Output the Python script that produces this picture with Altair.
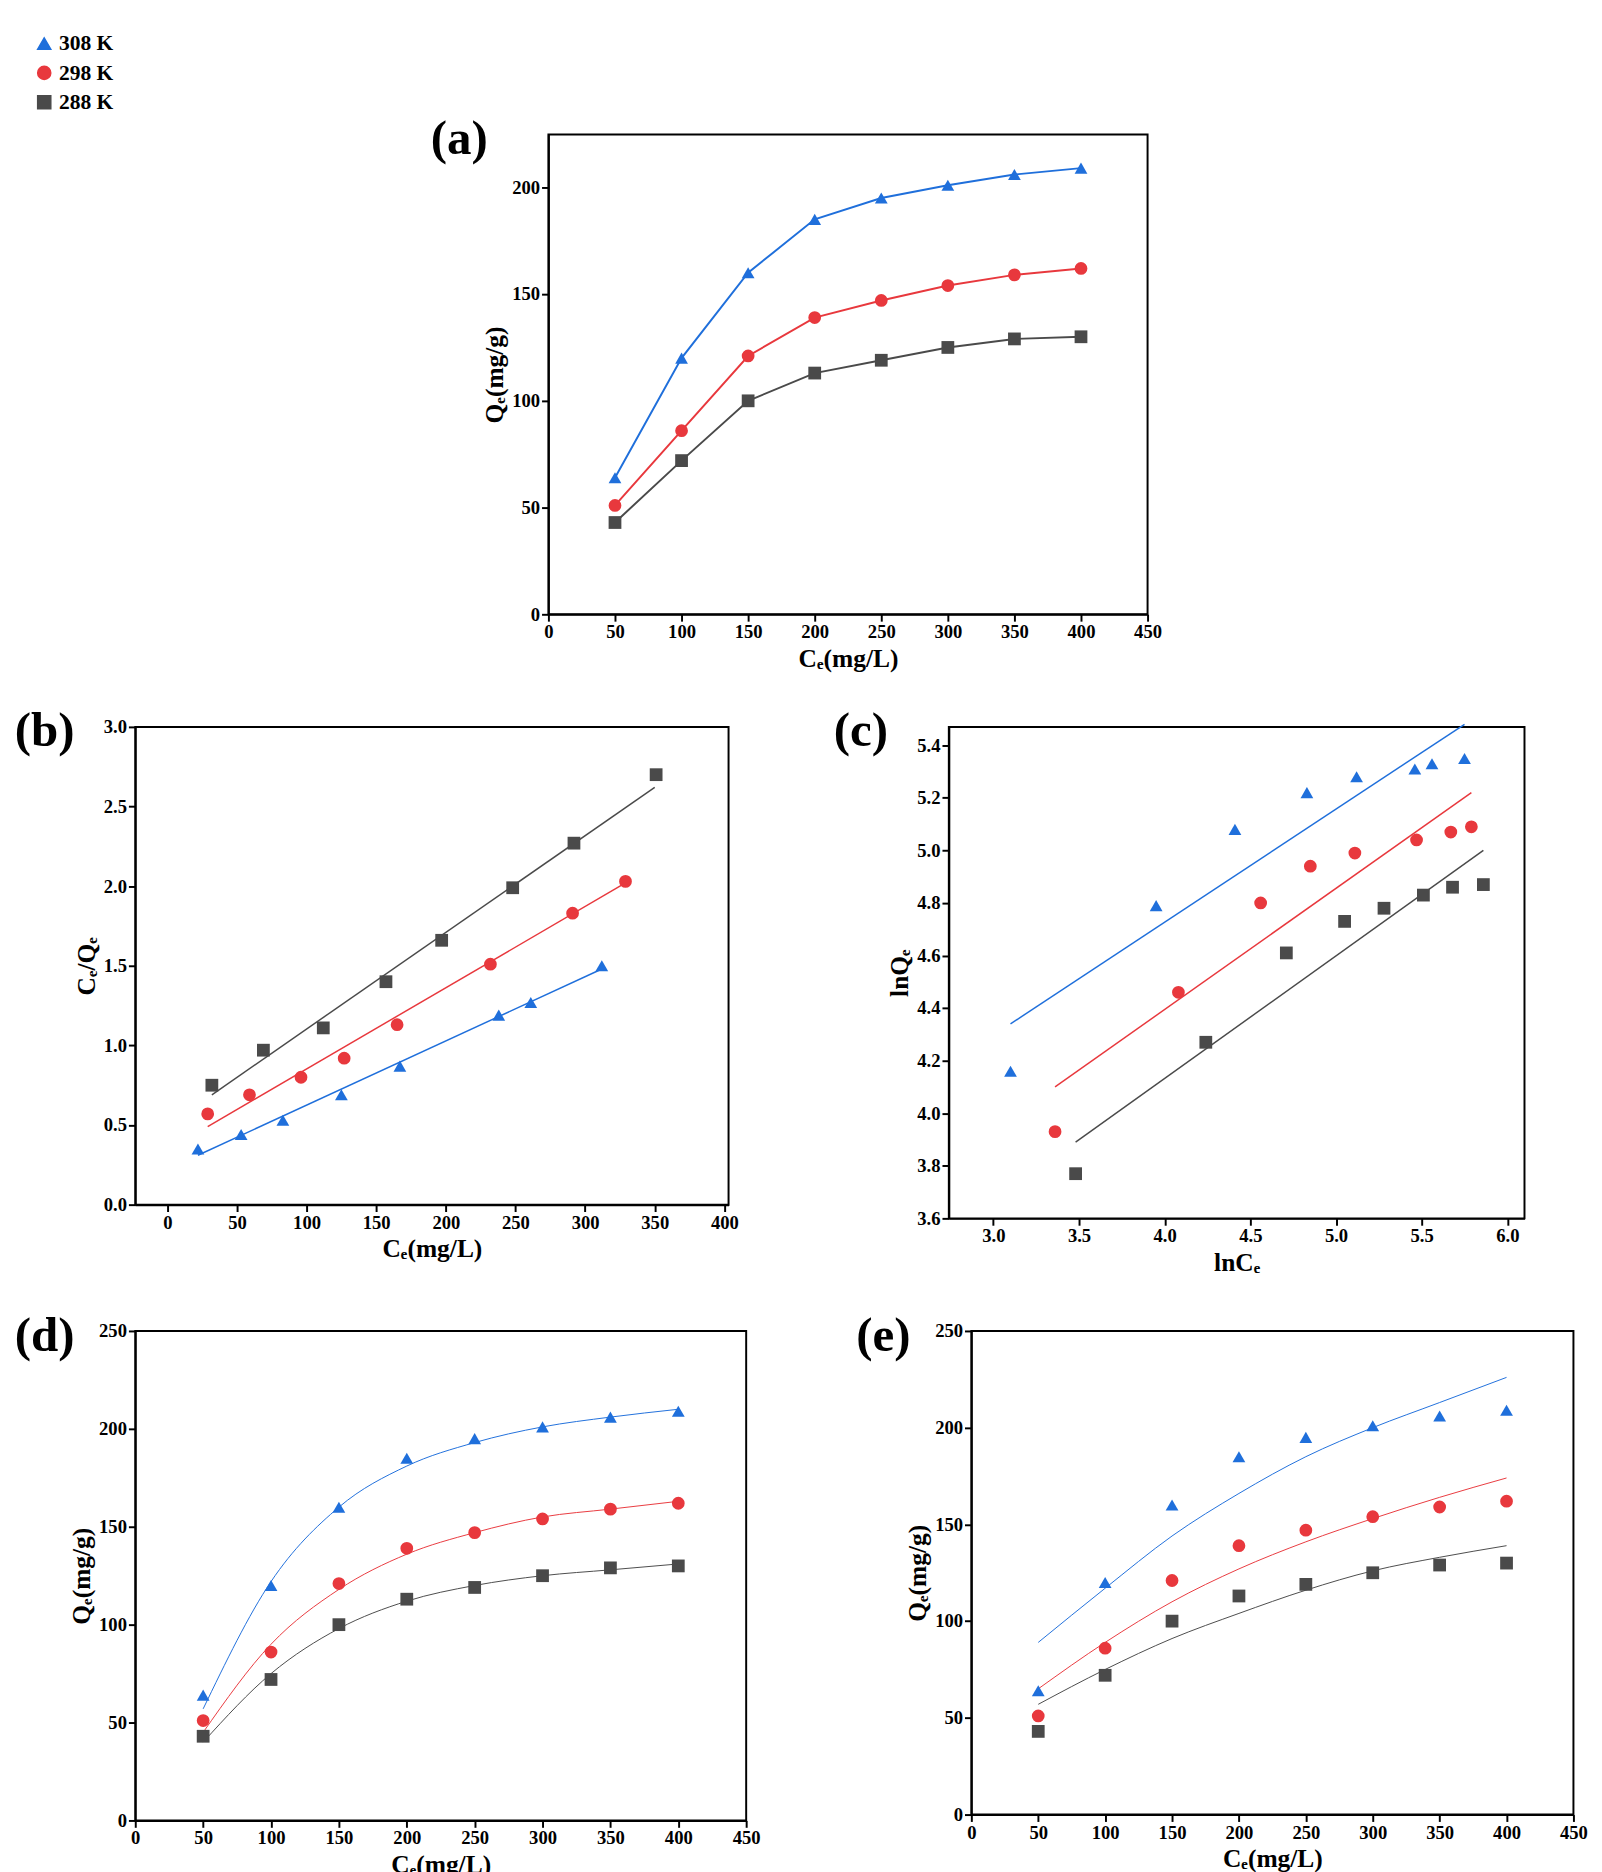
import altair as alt
import pandas as pd

temps = ["308 K", "298 K", "288 K"]
colors = {"308 K": "#1F6FDB", "298 K": "#E8383D", "288 K": "#4A4A4A"}
shapes = {"308 K": "triangle-up", "298 K": "circle", "288 K": "square"}

ce = [50, 100, 150, 200, 250, 300, 350, 400]
qe = {
    "308 K": [64, 120, 160, 185, 195, 201, 206, 209],
    "298 K": [51, 86, 121, 139, 147, 154, 159, 162],
    "288 K": [43, 72, 100, 113, 119, 125, 129, 130],
}

# (b) Langmuir linear
b_x = {
    "288 K": [32, 69, 112, 157, 197, 248, 292, 351],
    "298 K": [29, 59, 96, 127, 165, 232, 291, 329],
    "308 K": [22, 53, 83, 125, 167, 238, 261, 312],
}
b_y = {
    "288 K": [0.75, 0.97, 1.11, 1.40, 1.66, 1.99, 2.27, 2.70],
    "298 K": [0.57, 0.69, 0.80, 0.92, 1.13, 1.51, 1.83, 2.03],
    "308 K": [0.35, 0.44, 0.53, 0.69, 0.87, 1.19, 1.27, 1.50],
}
b_fit_x = {"288 K": [32, 350], "298 K": [29, 329], "308 K": [22, 312]}
b_fit_y = {"288 K": [0.69, 2.62], "298 K": [0.49, 2.02], "308 K": [0.31, 1.48]}

# (c) Freundlich linear
c_x = {
    "308 K": [3.10, 3.95, 4.41, 4.83, 5.12, 5.46, 5.56, 5.75],
    "298 K": [3.36, 4.08, 4.56, 4.85, 5.11, 5.47, 5.67, 5.79],
    "288 K": [3.48, 4.24, 4.71, 5.05, 5.28, 5.51, 5.68, 5.86],
}
c_y = {
    "308 K": [4.16, 4.79, 5.08, 5.22, 5.28, 5.31, 5.33, 5.35],
    "298 K": [3.93, 4.46, 4.80, 4.94, 4.99, 5.04, 5.07, 5.09],
    "288 K": [3.77, 4.27, 4.61, 4.73, 4.78, 4.83, 4.86, 4.87],
}
c_fit_x = {"308 K": [3.10, 5.75], "298 K": [3.36, 5.79], "288 K": [3.48, 5.86]}
c_fit_y = {"308 K": [4.34, 5.48], "298 K": [4.10, 5.22], "288 K": [3.89, 5.00]}

# (d) Langmuir curve, (e) Freundlich curve
d_fit = {
    "308 K": [57, 122, 160, 181, 193, 201, 206, 210],
    "298 K": [45, 90, 118, 136, 147, 155, 159, 163],
    "288 K": [40, 75, 98, 112, 120, 125, 128, 131],
}
e_fit = {
    "308 K": [89, 117, 144, 166, 185, 200, 213, 226],
    "298 K": [65, 89, 110, 127, 141, 153, 164, 174],
    "288 K": [57, 75, 91, 104, 116, 126, 133, 139],
}

FONT = "Liberation Serif"


def frame(xs, ys):
    rows = []
    for t in xs:
        for x, y in zip(xs[t], ys[t]):
            rows.append({"x": x, "y": y, "T": t})
    return pd.DataFrame(rows)


def panel(pts, fit, xdom, ydom, xticks, yticks, xtitle, ytitle, label, order,
          w, h, interp="linear", fit_width=1.5, xfmt="d", yfmt="d"):
    xs = alt.Scale(domain=xdom, nice=False, zero=False)
    ys = alt.Scale(domain=ydom, nice=False, zero=False)
    cscale = alt.Scale(domain=order, range=[colors[t] for t in order])
    leg = alt.Legend(title=None, orient="bottom-right", offset=22,
                     labelFont=FONT, labelFontSize=22, labelFontWeight="bold",
                     labelColor="black", symbolSize=180, rowPadding=8)
    shp = alt.Shape("T:N", scale=alt.Scale(domain=order, range=[shapes[t] for t in order]),
                    legend=leg)
    xa = alt.Axis(values=xticks, title=xtitle, grid=False, format=xfmt)
    ya = alt.Axis(values=yticks, title=ytitle, grid=False, format=yfmt)
    line = alt.Chart(fit).mark_line(interpolate=interp, strokeWidth=fit_width).encode(
        x=alt.X("x:Q", scale=xs, axis=xa), y=alt.Y("y:Q", scale=ys, axis=ya),
        color=alt.Color("T:N", scale=cscale, legend=leg), detail="T:N")
    point = alt.Chart(pts).mark_point(filled=True, opacity=1, size=170).encode(
        x=alt.X("x:Q", scale=xs), y=alt.Y("y:Q", scale=ys),
        color=alt.Color("T:N", scale=cscale, legend=leg), shape=shp)
    lab = alt.Chart(pd.DataFrame({"t": [label]})).mark_text(
        font=FONT, fontSize=50, fontWeight="bold", align="right", baseline="top", color="black"
    ).encode(text="t:N", x=alt.value(-62), y=alt.value(-20))
    return alt.layer(line, point, lab).properties(width=w, height=h)


a_df = frame({t: ce for t in temps}, qe)
pa = panel(a_df, a_df, [0, 450], [0, 224.7], list(range(0, 451, 50)), list(range(0, 201, 50)),
           "Cₑ(mg/L)", "Qₑ(mg/g)", "(a)", temps, 612, 490, fit_width=2)

pb = panel(frame(b_x, b_y), frame(b_fit_x, b_fit_y), [-23, 403], [0, 3],
           list(range(0, 401, 50)), [0, 0.5, 1, 1.5, 2, 2.5, 3],
           "Cₑ(mg/L)", "Cₑ/Qₑ", "(b)", ["288 K", "298 K", "308 K"], 606, 488,
           yfmt=".1f")

pc = panel(frame(c_x, c_y), frame(c_fit_x, c_fit_y), [2.74, 6.1], [3.6, 5.47],
           [3.0, 3.5, 4.0, 4.5, 5.0, 5.5, 6.0], [3.6, 3.8, 4.0, 4.2, 4.4, 4.6, 4.8, 5.0, 5.2, 5.4],
           "lnCₑ", "lnQₑ", "(c)", temps, 588, 502, xfmt=".1f", yfmt=".1f")

pd_ = panel(a_df, frame({t: ce for t in temps}, d_fit), [0, 450], [0, 250],
            list(range(0, 451, 50)), list(range(0, 251, 50)),
            "Cₑ(mg/L)", "Qₑ(mg/g)", "(d)", temps, 624, 500, interp="monotone", fit_width=1)

pe = panel(a_df, frame({t: ce for t in temps}, e_fit), [0, 450], [0, 250],
           list(range(0, 451, 50)), list(range(0, 251, 50)),
           "Cₑ(mg/L)", "Qₑ(mg/g)", "(e)", temps, 615, 494, interp="monotone", fit_width=1)

spacer = alt.Chart(pd.DataFrame({"v": [0]})).mark_point(opacity=0).properties(width=300, height=10)

chart = alt.vconcat(
    alt.hconcat(spacer, pa, spacing=0),
    alt.hconcat(pb, pc, spacing=95),
    alt.hconcat(pd_, pe, spacing=95),
    spacing=35,
).configure_view(stroke="black", strokeWidth=2).configure_axis(
    labelFont=FONT, labelFontSize=19, labelFontWeight="bold", labelColor="black",
    titleFont=FONT, titleFontSize=26, titleFontWeight="bold", titleColor="black",
    domainColor="black", domainWidth=2, tickColor="black", tickWidth=2, tickSize=7,
    labelFlush=False,
)

chart.save("out.html", embed_options={"renderer": "svg", "actions": False})
